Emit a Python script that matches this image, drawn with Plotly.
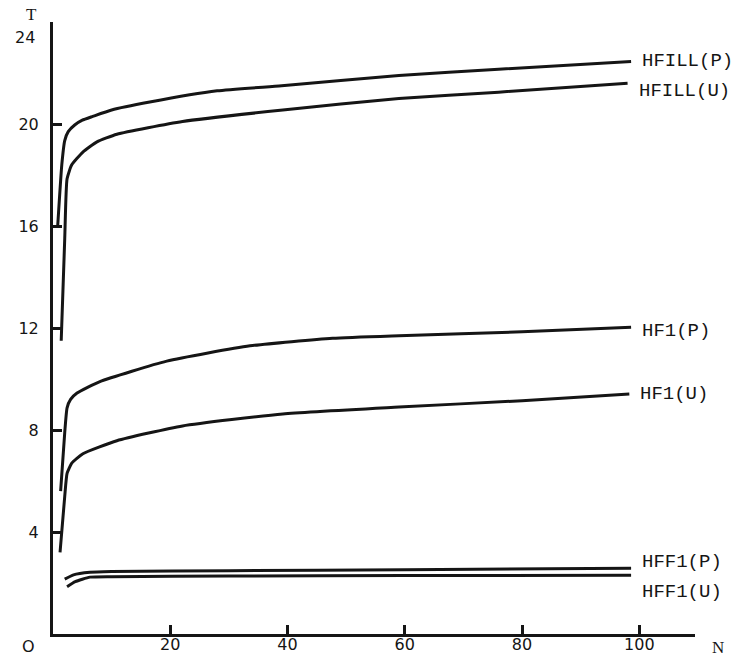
import plotly.graph_objects as go

# ---- data ----
series_names = ["HFILL(P)", "HFILL(U)", "HF1(P)", "HF1(U)", "HFF1(P)", "HFF1(U)"]

hfill_p_n = [0.8, 1.5, 2.0, 2.6, 3.7, 5.0, 6.8, 10.0, 16.5, 28.0, 39.0, 59.0, 76.0, 98.6]
hfill_p_t = [16.0, 18.4, 19.35, 19.7, 19.96, 20.15, 20.3, 20.55, 20.86, 21.3, 21.5, 21.9, 22.15, 22.45]

hfill_u_n = [1.4, 2.0, 2.4, 3.2, 5.1, 7.5, 10.9, 22.1, 39.2, 59.0, 76.0, 98.0]
hfill_u_t = [11.5, 15.5, 17.85, 18.4, 18.9, 19.3, 19.6, 20.1, 20.55, 21.0, 21.25, 21.6]

hf1_p_n = [1.3, 2.0, 2.4, 3.0, 4.1, 8.0, 19.4, 33.6, 47.7, 59.0, 80.0, 98.6]
hf1_p_t = [5.6, 7.9, 8.87, 9.2, 9.45, 9.9, 10.7, 11.3, 11.6, 11.7, 11.85, 12.03]

hf1_u_n = [1.2, 2.0, 2.4, 3.2, 5.1, 10.9, 22.1, 39.2, 59.0, 80.0, 98.3]
hf1_u_t = [3.2, 5.4, 6.3, 6.7, 7.07, 7.58, 8.16, 8.63, 8.9, 9.15, 9.41]

hff1_p_n = [2.0, 3.5, 6.3, 10.0, 30.0, 60.0, 98.6]
hff1_p_t = [2.15, 2.32, 2.42, 2.45, 2.48, 2.52, 2.58]

hff1_u_n = [2.4, 3.8, 6.3, 10.0, 30.0, 60.0, 98.6]
hff1_u_t = [1.85, 2.05, 2.23, 2.25, 2.27, 2.29, 2.3]

x_tick_vals = [20, 40, 60, 80, 100]
x_tick_text = ["20", "40", "60", "80", "100"]
y_tick_vals = [4, 8, 12, 16, 20]
y_tick_text = ["4", "8", "12", "16", "20"]
y_top_label = "24"
origin_label = "O"
x_title = "N"
y_title = "T"

series_n = [hfill_p_n, hfill_u_n, hf1_p_n, hf1_u_n, hff1_p_n, hff1_u_n]
series_t = [hfill_p_t, hfill_u_t, hf1_p_t, hf1_u_t, hff1_p_t, hff1_u_t]

# ---- styling ----
INK = "#151515"
label_yshift = [1, -8, -4, 0, 6, -17]

fig = go.Figure()
for name, xs, ys in zip(series_names, series_n, series_t):
    fig.add_trace(go.Scatter(x=xs, y=ys, mode="lines", name=name,
                             line=dict(color=INK, width=3, shape="spline", smoothing=0.5),
                             showlegend=False))

annotations = []
for name, xs, ys, dy in zip(series_names, series_n, series_t, label_yshift):
    annotations.append(dict(x=xs[-1], y=ys[-1], xref="x", yref="y", text=name,
                            showarrow=False, xanchor="left", yanchor="middle",
                            xshift=9, yshift=dy,
                            font=dict(family="Liberation Mono", size=19, color=INK)))

annotations.append(dict(x=0, y=24, xref="x", yref="y", text=y_top_label, showarrow=False,
                        xanchor="right", yanchor="middle", xshift=-16, yshift=-15,
                        font=dict(family="DejaVu Sans", size=16, color=INK)))
annotations.append(dict(x=0, y=0, xref="x", yref="y", text=origin_label, showarrow=False,
                        xanchor="right", yanchor="middle", xshift=-16, yshift=-12,
                        font=dict(family="DejaVu Sans", size=16, color=INK)))
annotations.append(dict(x=0, y=24, xref="x", yref="y", text=y_title, showarrow=False,
                        xanchor="center", yanchor="middle", xshift=-22, yshift=8,
                        font=dict(family="Liberation Serif", size=17, color=INK)))
annotations.append(dict(x=109.5, y=0, xref="x", yref="y", text=x_title, showarrow=False,
                        xanchor="center", yanchor="middle", xshift=23, yshift=-13,
                        font=dict(family="Liberation Serif", size=17, color=INK)))

fig.update_layout(
    width=740, height=658,
    margin=dict(l=53, r=45, t=22, b=24, autoexpand=False),
    paper_bgcolor="white", plot_bgcolor="white",
    annotations=annotations,
    xaxis=dict(range=[0, 109.5], showgrid=False, zeroline=False, automargin=False,
               showline=True, linecolor=INK, linewidth=3,
               ticks="inside", ticklen=9, tickwidth=2.5, tickcolor=INK,
               tickvals=x_tick_vals, ticktext=x_tick_text, ticklabelstandoff=-6,
               tickfont=dict(family="DejaVu Sans", size=16, color=INK)),
    yaxis=dict(range=[0, 24], showgrid=False, zeroline=False, automargin=False,
               showline=True, linecolor=INK, linewidth=3,
               ticks="inside", ticklen=9, tickwidth=2.5, tickcolor=INK,
               tickvals=y_tick_vals, ticktext=y_tick_text, ticklabelstandoff=8,
               tickfont=dict(family="DejaVu Sans", size=16, color=INK)),
)

# remove the page's default body margin so the 740x658 figure fills the window exactly
fig.write_html("out.html",
               config={"displayModeBar": False},
               post_script="document.body.style.margin='0';document.body.style.overflow='hidden';")
